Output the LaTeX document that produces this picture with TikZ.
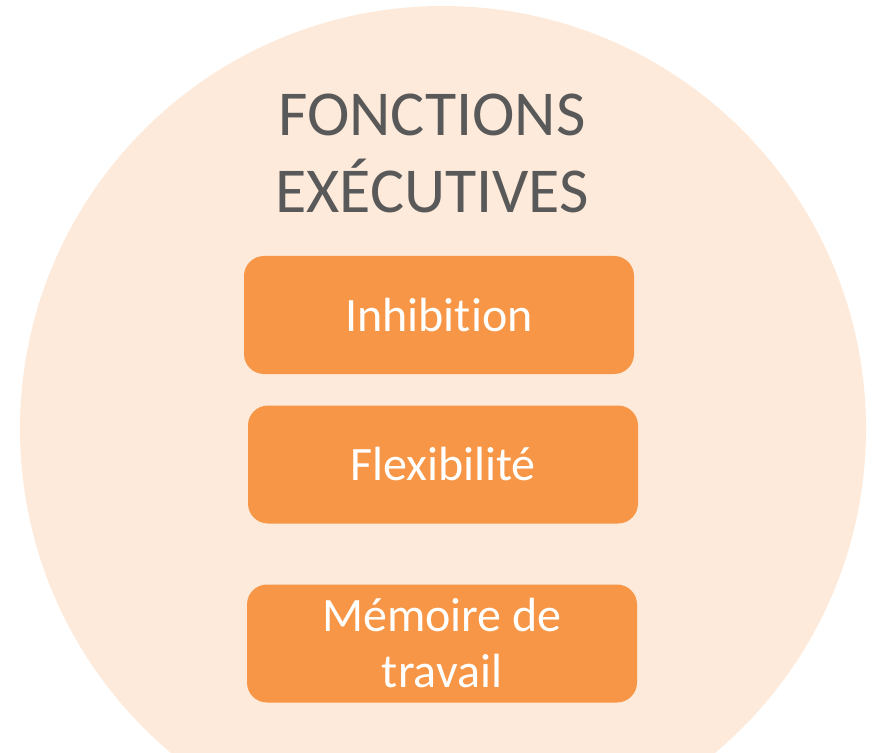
\documentclass[tikz,border=0pt]{standalone}
\usepackage{fontspec}
\setmainfont[Ligatures=NoCommon]{Carlito}
\definecolor{peche}{HTML}{FDEADA}
\definecolor{orange}{HTML}{F79646}
\definecolor{gristitre}{HTML}{595959}
\tikzset{
	fonction/.style={fill=orange,rounded corners=10pt,minimum width=195pt,minimum height=59pt,
		inner sep=0pt,align=center,text=white,font=\fontsize{24}{28}\selectfont}
}
\begin{document}
\begin{tikzpicture}[x=0.5pt,y=-0.5pt,line join=round,line cap=round]
	\clip (0,0) rectangle (882,753);
	\fill[peche] (443,429) circle[radius=423];
	\node[align=center,inner sep=0pt,text=gristitre,font=\fontsize{32}{38.5}\selectfont] (titre) at (432,153) {FONCTIONS\\EXÉCUTIVES};
	\node[fonction] (inhib) at (439,315) {Inhibition};
	\node[fonction] (flex) at (443,464.5) {Flexibilité};
	\node[fonction] (memoire) at (442,643.5) {Mémoire de\\travail};

\end{tikzpicture}
\end{document}
